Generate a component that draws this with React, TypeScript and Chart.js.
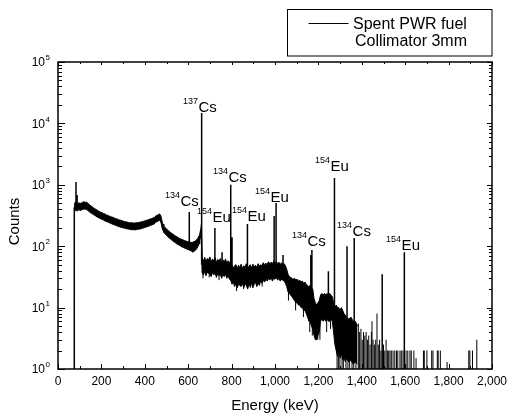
import { useEffect, useRef } from "react";
import { Chart, registerables } from "chart.js";
Chart.register(...registerables);

// ---- spectrum continuum (noise band envelope) ----
const bandE = [74,78,84,90,96,102,108,114,120,126,132,138,144,150,156,162,168,174,180,186,192,198,204,210,216,222,228,234,240,246,252,258,264,270,276,282,288,294,300,306,312,318,324,330,336,342,348,354,360,366,372,378,384,390,396,402,408,414,420,426,432,438,444,450,456,462,468,472,476,480,484,488,494,500,506,512,518,524,530,536,542,548,554,560,566,572,578,584,590,596,602,608,614,620,626,632,638,644,650,654,658,661,
664,670,676,682,688,694,700,706,712,718,724,730,736,742,748,754,760,766,772,778,784,790,796,802,808,814,820,826,832,838,844,850,856,862,868,874,880,886,892,898,904,910,916,922,928,934,940,946,952,958,964,970,976,982,988,994,1000,1006,1012,1018,1024,1030,1036,1042,1048,1054,1060,1066,1072,1078,1084,1090,1096,1102,1108,1114,1120,1126,1132,1138,1144,1150,1156,1162,1168,1174,1180,1186,1192,1198,1204,1210,1216,1222,1228,1234,1240,1246,1252,1258,1264,1270,1276,1282,1288,1294,1300,1306,1312,1318,1324,1330,1340,1350,1360,1370,1380];
const bandHi = [470,520,500,490,510,495,505,520,530,515,525,495,480,455,445,425,410,400,388,375,368,355,350,340,336,325,318,312,305,300,296,289,283,280,273,268,266,260,257,252,250,247,244,242,240,240,238,239,240,242,243,246,249,252,256,260,264,268,273,278,283,288,294,310,318,325,335,325,295,250,228,212,200,192,182,176,168,162,157,151,146,142,138,134,131,128,126,123,121,119,118,117,115,116,118,121,126,134,148,165,190,230,
64,57,66,56,63,60,67,55,62,58,65,54,61,57,63,53,60,55,62,52,58,55,51,49,44,48,50,43,49,45,51,43,48,46,52,44,47,50,44,51,46,49,45,52,47,50,48,54,49,53,50,56,51,55,52,57,51,56,52,55,50,54,49,52,48,42,35,32,31,30,29,30,28,29,27,28,26,27,25,26,24,23,22,23,21,20,14,12,11,12,13,16,17,16,17,16,17,16,17,16,15,12,10,11,10,10,9,10,9,8,7.5,7,6.5,7,6,6,5];
const bandLo = [370,390,380,375,395,380,390,395,405,400,395,380,365,350,340,330,318,310,300,292,285,278,272,266,258,254,248,243,238,233,228,224,220,215,212,208,204,202,199,196,194,192,190,188,186,185,186,184,186,188,189,191,193,196,199,203,206,210,214,218,222,226,231,245,250,258,262,255,232,198,180,168,158,150,143,137,131,126,121,117,113,109,106,103,100,97,95,93,91,89,87,86,84,80,82,85,90,97,110,125,150,180,
37,34,39,33,38,36,35,32,38,34,37,31,36,33,35,30,34,32,35,30,33,29,28,24,26,22,25,21,24,23,22,25,21,24,23,20,24,22,25,21,24,26,22,25,23,27,25,28,26,29,27,30,28,31,27,30,29,31,28,30,27,29,28,27,25,22,18,17,16,15,14,13,12,12,11,11,10,10,9,9,8,7,6,6,5,4.5,3.5,3,3,3.5,4,6,6.5,6,6.5,6,6.5,6,6,6.5,6,4,2.5,2,1.6,2,1.5,1.8,1.4,1.6,1.3,1.5,1.3,1.4,1.2,1.3,1.2];

// ---- photopeaks (vertical lines) ----
const peakE = [75,83,88,605,662,723,756,796,802,873,996,1005,1037,1165,1170,1246,1274,1332,1365,1494,1596];
const peakTop = [430,1110,680,360,14800,198,80,1000,140,230,310,505,72,72,87,39,1290,100,136,35,80];
const peakBase = [1,450,450,100,50,45,45,40,35,35,40,40,40,12,12,10,8,5,5,1,1];

// ---- downward noise dips ----
const dipE = [668,697,742,823,855,886,941,1062,1095,1131,1160,1172,1197,1207,1238,1256,1286,1292,1299,1309,1315,1327,1336,1344,1355,1363,1373];
const dipTop = [45,45,42,35,35,34,36,25,20,18,15,12,9,10,10,10,5,6,7,5,6,5,4,5,4,4,3];
const dipLow = [30,31,28,18.6,20,21,22,13,9,7,4,3.5,3,3,4,4.5,1,1,1,1,1,1,1,1,1,1,1];

// ---- sparse high-energy channels (drawn up from 1 count) ----
const tailE = [1384,1390,1396,1402,1408,1414,1420,1426,1432,1438,1444,1447,1452,1458,1464,1470,1476,1482,1488,1500,1506,1512,1518,1524,1530,1536,1544,1552,1560,1566,1576,1582,1590,1604,1612,1622,1628,1640,1650,1684,1688,1700,1722,1728,1748,1752,1762,1793,1893,1898,1910,1930];
const tailHi = [5.5,4,4.5,3,4,3.5,4,3,3.5,2.5,4,6,3,2.5,3,8,2.5,3,2,2.5,2,3,2,2,2,2,2,2,2,2,2,2,2,2,2,2,2,2,1.5,2,2,2,2,2,2,2,2,1.3,2,2,2,3];

// ---- isotope labels (anchored in data space: left edge, baseline) ----
const labelMass = ["137","134","154","134","154","154","134","154","134","154"];
const labelElement = ["Cs","Cs","Eu","Cs","Eu","Eu","Cs","Eu","Cs","Eu"];
const labelE = [576,493,641,714,802,908,1078,1184,1286,1512];
const labelY = [15300,452,248,1110,257,525,101,1680,147,87];

// ---- axes ----
const xMajorTicks = [0,200,400,600,800,1000,1200,1400,1600,1800,2000];
const xTickLabels = ["0","200","400","600","800","1,000","1,200","1,400","1,600","1,800","2,000"];
const yDecades = [0,1,2,3,4,5];
const xTitle = "Energy (keV)";
const yTitle = "Counts";
const legendLabel = ["Spent PWR fuel", "Collimator 3mm"];

const FONT = '"Liberation Sans", Arial, sans-serif';

function segs(xs: number[], lo: number[], hi: number[]) {
  const pts: any[] = [];
  xs.forEach((x, i) => {
    pts.push({ x, y: lo[i] }, { x, y: hi[i] }, { x, y: null });
  });
  return pts;
}

const framePlugin = {
  id: "frame",
  afterDraw(chart: any) {
    const { ctx, chartArea: a, scales } = chart;
    const xs = scales.x;
    const ys = scales.y;
    ctx.save();
    ctx.strokeStyle = "#000";
    ctx.fillStyle = "#000";
    // frame
    ctx.lineWidth = 1.5;
    ctx.strokeRect(a.left, a.top, a.right - a.left, a.bottom - a.top);
    ctx.lineWidth = 1;
    // x ticks
    const xMinor: number[] = [];
    for (let i = 0; i < xMajorTicks.length - 1; i++) xMinor.push((xMajorTicks[i] + xMajorTicks[i + 1]) / 2);
    ctx.beginPath();
    xMajorTicks.forEach((v) => {
      const p = Math.round(xs.getPixelForValue(v)) + 0.5;
      ctx.moveTo(p, a.bottom); ctx.lineTo(p, a.bottom - 5);
      ctx.moveTo(p, a.top); ctx.lineTo(p, a.top + 3);
    });
    xMinor.forEach((v) => {
      const p = Math.round(xs.getPixelForValue(v)) + 0.5;
      ctx.moveTo(p, a.bottom); ctx.lineTo(p, a.bottom - 3);
      ctx.moveTo(p, a.top); ctx.lineTo(p, a.top + 2);
    });
    // y ticks
    yDecades.forEach((d) => {
      const mults = d === yDecades[yDecades.length - 1] ? [1] : [1, 2, 3, 4, 5, 6, 7, 8, 9];
      mults.forEach((m) => {
        const p = Math.round(ys.getPixelForValue(m * Math.pow(10, d))) + 0.5;
        const major = m === 1;
        ctx.moveTo(a.left, p); ctx.lineTo(a.left + (major ? 7 : 4), p);
        ctx.moveTo(a.right, p); ctx.lineTo(a.right - (major ? 5 : 3), p);
      });
    });
    ctx.stroke();

    // x tick labels
    ctx.font = "12px " + FONT;
    ctx.textAlign = "center";
    ctx.textBaseline = "middle";
    xMajorTicks.forEach((v, i) => {
      ctx.fillText(xTickLabels[i], xs.getPixelForValue(v), a.bottom + 13);
    });
    // y tick labels 10^n
    yDecades.forEach((d) => {
      const p = ys.getPixelForValue(Math.pow(10, d));
      ctx.font = "12px " + FONT;
      ctx.textAlign = "right";
      ctx.textBaseline = "middle";
      ctx.fillText("10", a.left - 13, p + 1);
      ctx.font = "8px " + FONT;
      ctx.textAlign = "left";
      ctx.fillText(String(d), a.left - 12.5, p - 4);
    });
    // titles
    ctx.font = "15px " + FONT;
    ctx.textAlign = "center";
    ctx.textBaseline = "alphabetic";
    ctx.fillText(xTitle, (a.left + a.right) / 2, a.bottom + 41);
    ctx.save();
    ctx.translate(19, (a.top + a.bottom) / 2 + 6);
    ctx.rotate(-Math.PI / 2);
    ctx.fillText(yTitle, 0, 0);
    ctx.restore();

    // isotope labels
    ctx.textAlign = "left";
    ctx.textBaseline = "alphabetic";
    labelMass.forEach((mass, i) => {
      const x = xs.getPixelForValue(labelE[i]);
      const y = ys.getPixelForValue(labelY[i]);
      ctx.font = "9px " + FONT;
      ctx.fillText(mass, x, y - 8);
      const w = ctx.measureText(mass).width;
      ctx.font = "15px " + FONT;
      ctx.fillText(labelElement[i], x + w + 0.5, y);
    });

    // legend box
    ctx.lineWidth = 1;
    const bx = a.left + 229.5;
    ctx.strokeRect(bx, 9.5, a.right - bx, 46.5);
    ctx.beginPath();
    ctx.moveTo(bx + 21, 23.5);
    ctx.lineTo(bx + 61, 23.5);
    ctx.stroke();
    ctx.font = "16px " + FONT;
    ctx.fillText(legendLabel[0], bx + 65.5, 28.5);
    ctx.fillText(legendLabel[1], bx + 67.5, 45.5);
    ctx.restore();
  },
};

export default function App() {
  const ref = useRef<HTMLCanvasElement | null>(null);
  useEffect(() => {
    if (!ref.current) return;
    const black = "#000";
    const chart = new Chart(ref.current, {
      type: "line",
      data: {
        datasets: [
          {
            label: "hi",
            data: bandE.map((x, i) => ({ x, y: bandHi[i] })),
            borderColor: black,
            borderWidth: 1,
            pointRadius: 0,
            fill: false,
          },
          {
            label: "lo",
            data: bandE.map((x, i) => ({ x, y: bandLo[i] })),
            borderColor: black,
            borderWidth: 1,
            pointRadius: 0,
            fill: "-1",
            backgroundColor: black,
          },
          {
            label: "peaks",
            data: segs(peakE, peakBase, peakTop),
            borderColor: black,
            borderWidth: 1.5,
            pointRadius: 0,
            fill: false,
          },
          {
            label: "dips",
            data: segs(dipE, dipLow, dipTop),
            borderColor: black,
            borderWidth: 1,
            pointRadius: 0,
            fill: false,
          },
          {
            label: "tail",
            data: segs(tailE, tailE.map(() => 1), tailHi),
            borderColor: black,
            borderWidth: 1,
            pointRadius: 0,
            fill: false,
          },
        ],
      },
      options: {
        responsive: false,
        animation: false,
        spanGaps: false,
        layout: { padding: { left: 58, right: 15, top: 62, bottom: 46 } },
        plugins: {
          legend: { display: false },
          tooltip: { enabled: false },
        },
        scales: {
          x: { type: "linear", min: 0, max: 2000, display: false },
          y: { type: "logarithmic", min: 1, max: 100000, display: false },
        },
      },
      plugins: [framePlugin],
    });
    return () => chart.destroy();
  }, []);
  return (
    <div style={{ position: "absolute", left: 0, top: 0, width: 507, height: 415, background: "#fff" }}>
      <canvas ref={ref} width={507} height={415} style={{ display: "block" }} />
    </div>
  );
}
